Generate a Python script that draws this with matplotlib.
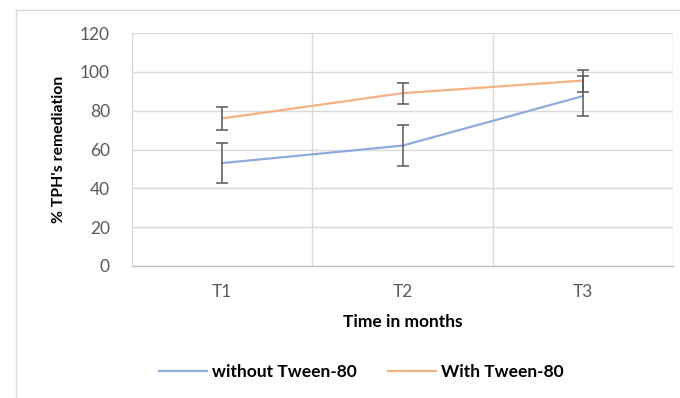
import matplotlib
matplotlib.use('Agg')
import matplotlib.pyplot as plt
from matplotlib.lines import Line2D
import numpy as np

# 時間點與兩組處理的 TPH 去除率（%）及誤差
periods = ['T1', 'T2', 'T3']
without_tween = [53, 62, 87.5]
without_err = [10.5, 10.5, 10.3]
with_tween = [76, 89, 95.5]
with_err = [6, 5.5, 5.7]

plt.rcParams['font.family'] = ['Lato', 'DejaVu Sans']

fig = plt.figure(figsize=(6.8, 3.98), dpi=100)
ax = fig.add_axes([132 / 680, 1 - 266 / 398, 541 / 680, 233 / 398])

x = np.arange(len(periods))
blue = '#8FAADC'
orange = '#F4B183'
err_color = '#595959'

ax.plot(x, without_tween, color=blue, linewidth=1.6, zorder=3)
ax.plot(x, with_tween, color=orange, linewidth=1.6, zorder=3)
ax.errorbar(x, without_tween, yerr=without_err, fmt='none', ecolor=err_color,
            elinewidth=1.1, capsize=4.5, capthick=1.1, zorder=4)
ax.errorbar(x, with_tween, yerr=with_err, fmt='none', ecolor=err_color,
            elinewidth=1.1, capsize=4.5, capthick=1.1, zorder=4)

# 座標軸範圍與刻度
ax.set_xlim(-0.5, len(periods) - 0.5)
ax.set_ylim(0, 120)
ax.set_yticks(range(0, 121, 20))
ax.set_xticks(x)
ax.set_xticklabels(periods)

# 網格線（橫線在刻度上，直線在類別之間）
grid_color = '#D9D9D9'
ax.grid(False)
for yv in range(20, 121, 20):
    ax.axhline(yv, color=grid_color, linewidth=1, zorder=1)
for xv in np.arange(-0.5, len(periods), 1.0):
    ax.axvline(xv, color=grid_color, linewidth=1, zorder=1)

for side in ['top', 'right', 'left']:
    ax.spines[side].set_visible(False)
ax.spines['bottom'].set_color('#BFBFBF')
ax.spines['bottom'].set_linewidth(1)

ax.tick_params(axis='both', length=0, colors='#595959', labelsize=12.5)
ax.tick_params(axis='x', pad=13)
ax.tick_params(axis='y', pad=16)

ax.set_xlabel('Time in months', fontsize=12.5, fontweight='bold', color='#000000', labelpad=10)
ax.set_ylabel("% TPH's remediation", fontsize=11.3, fontweight='bold', color='#000000', labelpad=10)

# 圖例放在下方
handles = [Line2D([], [], color=blue, linewidth=1.6),
           Line2D([], [], color=orange, linewidth=1.6)]
leg = fig.legend(handles, ['without Tween-80', 'With Tween-80'], loc='center',
                 bbox_to_anchor=(0.531, 0.065), ncol=2, frameon=False,
                 handlelength=2.8, columnspacing=1.8, handletextpad=0.25,
                 prop={'size': 12.5, 'weight': 'bold'})

# 外框
fig.add_artist(Line2D([16 / 680, 16 / 680], [0, 1 - 10 / 398], color='#D9D9D9', linewidth=1, transform=fig.transFigure))
fig.add_artist(Line2D([16 / 680, 1], [1 - 10 / 398, 1 - 10 / 398], color='#D9D9D9', linewidth=1, transform=fig.transFigure))

fig.savefig('out.png', dpi=100)
